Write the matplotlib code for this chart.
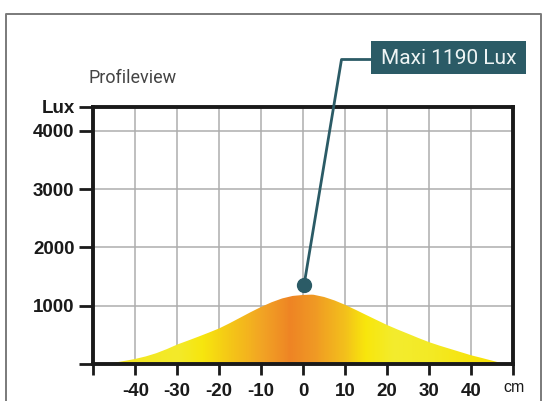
import numpy as np
import matplotlib
matplotlib.use('Agg')
import matplotlib.pyplot as plt
from matplotlib.colors import LinearSegmentedColormap
from matplotlib.patches import Rectangle, Polygon
from matplotlib.lines import Line2D

# ---- data ----
positions_cm = [-48, -46, -44, -42, -40, -37.5, -35, -32.5, -30, -27.5, -25, -22.5,
                -20, -17.5, -15, -12.5, -10, -7.5, -5, -2.5, 0, 2, 2.5, 5, 7.5, 10,
                12.5, 15, 17.5, 20, 22.5, 25, 27.5, 30, 32.5, 35, 37.5, 40, 42.5,
                45, 47, 48]
lux = [0, 15, 35, 60, 87, 130, 185, 255, 334, 400, 468, 538,
       611, 700, 795, 890, 980, 1060, 1125, 1168, 1185, 1190, 1188, 1150, 1090, 1015,
       930, 842, 755, 669, 592, 519, 445, 375, 315, 260, 205, 150, 105,
       58, 20, 0]
x_ticks = [-40, -30, -20, -10, 0, 10, 20, 30, 40]
x_tick_labels = ['-40', '-30', '-20', '-10', '0', '10', '20', '30', '40']
y_ticks = [1000, 2000, 3000, 4000]
y_tick_labels = ['1000', '2000', '3000', '4000']
max_label = 'Maxi 1190 Lux'
marker_x, marker_y = 0.2, 1350
# gradient colour stops along x (cm)
grad_x = [-50, -30, -24, -18, -10, -3, 3, 10, 15, 22, 30, 40, 50]
grad_c = ['#F5E51A', '#F3EA2A', '#F7E60E', '#F5C916', '#F2A524', '#EE8424',
          '#F09A24', '#F3C01C', '#F8E60C', '#F3EC2E', '#F3EA26', '#F7E40E', '#F8E000']

W, H = 546, 401
fig = plt.figure(figsize=(W / 100, H / 100), dpi=100)
fig.patch.set_facecolor('white')

def fx(px):
    return px / W

def fy(py):
    return 1 - py / H

XMIN, XMAX, YMAX = -50, 50, 4410
ax = fig.add_axes([fx(93.3), fy(364), fx(513) - fx(93.3), fy(107) - fy(364)])
ax.set_xlim(XMIN, XMAX)
ax.set_ylim(0, YMAX)

# grid
for xv in x_ticks:
    ax.axvline(xv, color='#ADADAD', lw=1.1, zorder=1)
for yv in y_ticks:
    ax.axhline(yv, color='#ADADAD', lw=1.1, zorder=1)

# gradient fill
pos = [(v - XMIN) / (XMAX - XMIN) for v in grad_x]
cmap = LinearSegmentedColormap.from_list('prof', list(zip(pos, grad_c)))
grad = np.linspace(0, 1, 500).reshape(1, -1)
im = ax.imshow(grad, cmap=cmap, aspect='auto', extent=[XMIN, XMAX, 0, YMAX],
               origin='lower', zorder=2, interpolation='bilinear')
verts = list(zip(positions_cm, lux))
poly = Polygon(verts, closed=True, facecolor='none', edgecolor='none',
               transform=ax.transData)
ax.add_patch(poly)
im.set_clip_path(poly)

# spines
for s in ax.spines.values():
    s.set_linewidth(2.8)
    s.set_color('#1a1a1a')
    s.set_zorder(5)

tick_font = ['Liberation Sans', 'DejaVu Sans']
ax.set_xticks([XMIN] + x_ticks + [XMAX])
ax.set_xticklabels([''] + x_tick_labels + [''], fontfamily=tick_font,
                   fontsize=13.5, fontweight='bold', color='#1a1a1a')
ax.set_yticks([0] + y_ticks + [YMAX])
ax.set_yticklabels([''] + y_tick_labels + ['Lux'], fontfamily=tick_font,
                   fontsize=13.5, fontweight='bold', color='#1a1a1a')
ax.tick_params(axis='x', length=8, width=2, color='#1a1a1a', pad=5.5, direction='out')
ax.tick_params(axis='y', length=10, width=2, color='#1a1a1a', pad=3.5, direction='out')

fig.text(fx(514), fy(387), 'cm', fontfamily=tick_font, fontsize=11.5,
         color='#1a1a1a', ha='center', va='center')

# title
fig.text(fx(89), fy(83), 'Profileview', family=['Roboto', 'DejaVu Sans'],
         fontweight='normal', fontsize=13, color='#444444', ha='left', va='baseline')

# label box and leader
teal = '#2B5B66'
fig.add_artist(Rectangle((fx(371), fy(74)), fx(526) - fx(371), fy(41) - fy(74),
                         transform=fig.transFigure, facecolor=teal, edgecolor='none'))
fig.text(fx(448.5), fy(58), max_label, family=['Roboto', 'DejaVu Sans'],
         fontweight='normal', fontsize=15, color='#EEF4F4', ha='center', va='center')

dot_disp = ax.transData.transform((marker_x, marker_y))
dot_fig = fig.transFigure.inverted().transform(dot_disp)
fig.add_artist(Line2D([fx(371), fx(341.5), dot_fig[0]], [fy(59.5), fy(59.5), dot_fig[1]],
                      transform=fig.transFigure, color=teal, lw=2, zorder=6))
ax.plot([marker_x], [marker_y], 'o', color=teal, ms=10, zorder=7, clip_on=False)

# outer frame
fig.add_artist(Line2D([fx(5.7), fx(5.7), fx(541), fx(541)],
                      [fy(402), fy(13.5), fy(13.5), fy(402)],
                      transform=fig.transFigure, color='#7a7a7a', lw=1.4))

fig.savefig('out.png', dpi=100)
